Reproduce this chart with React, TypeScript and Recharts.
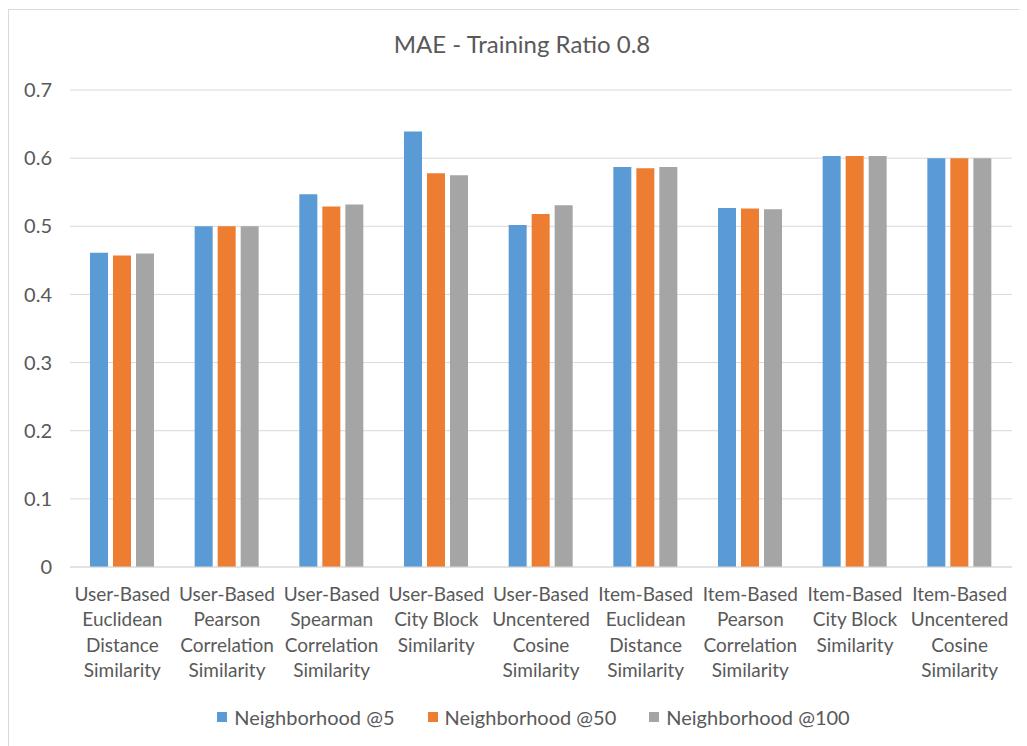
import { Bar, BarChart, CartesianGrid, Legend, XAxis, YAxis } from "recharts";

const categories = [
  "User-Based Euclidean Distance Similarity",
  "User-Based Pearson Correlation Similarity",
  "User-Based Spearman Correlation Similarity",
  "User-Based City Block Similarity",
  "User-Based Uncentered Cosine Similarity",
  "Item-Based Euclidean Distance Similarity",
  "Item-Based Pearson Correlation Similarity",
  "Item-Based City Block Similarity",
  "Item-Based Uncentered Cosine Similarity",
];

// how each category label wraps under the axis
const labelLines: Record<string, string[]> = {
  "User-Based Euclidean Distance Similarity": ["User-Based", "Euclidean", "Distance", "Similarity"],
  "User-Based Pearson Correlation Similarity": ["User-Based", "Pearson", "Correlation", "Similarity"],
  "User-Based Spearman Correlation Similarity": ["User-Based", "Spearman", "Correlation", "Similarity"],
  "User-Based City Block Similarity": ["User-Based", "City Block", "Similarity"],
  "User-Based Uncentered Cosine Similarity": ["User-Based", "Uncentered", "Cosine", "Similarity"],
  "Item-Based Euclidean Distance Similarity": ["Item-Based", "Euclidean", "Distance", "Similarity"],
  "Item-Based Pearson Correlation Similarity": ["Item-Based", "Pearson", "Correlation", "Similarity"],
  "Item-Based City Block Similarity": ["Item-Based", "City Block", "Similarity"],
  "Item-Based Uncentered Cosine Similarity": ["Item-Based", "Uncentered", "Cosine", "Similarity"],
};

const n5 = [0.461, 0.5, 0.547, 0.639, 0.502, 0.587, 0.527, 0.603, 0.6];
const n50 = [0.457, 0.5, 0.529, 0.578, 0.518, 0.585, 0.526, 0.603, 0.6];
const n100 = [0.46, 0.5, 0.532, 0.575, 0.531, 0.587, 0.525, 0.603, 0.6];

const yTicks = [0, 0.1, 0.2, 0.3, 0.4, 0.5, 0.6, 0.7];

const series = [
  { key: "n5", name: "Neighborhood @5", color: "#5B9BD5" },
  { key: "n50", name: "Neighborhood @50", color: "#ED7D31" },
  { key: "n100", name: "Neighborhood @100", color: "#A5A5A5" },
];

const FONT = "Lato, 'Open Sans', sans-serif";
const TEXT = "#595959";

const data = categories.map((c, i) => ({ cat: c, n5: n5[i], n50: n50[i], n100: n100[i] }));

function CategoryTick(props: any) {
  const { x, y, payload } = props;
  const lines = labelLines[payload.value] ?? [payload.value];
  return (
    <text x={x} y={y} textAnchor="middle" fill={TEXT} fontSize={19} fontFamily={FONT}>
      {lines.map((l, i) => (
        <tspan key={i} x={x} dy={i === 0 ? 26 : 25.3}>
          {l}
        </tspan>
      ))}
    </text>
  );
}

function LegendContent() {
  return (
    <div
      style={{
        display: "flex",
        justifyContent: "center",
        alignItems: "center",
        fontFamily: FONT,
        fontSize: 20,
        color: TEXT,
        paddingLeft: 55,
        paddingTop: 13,
      }}
    >
      {series.map((s, i) => (
        <div
          key={s.key}
          style={{ display: "flex", alignItems: "center", marginRight: i < series.length - 1 ? 33 : 0 }}
        >
          <span style={{ width: 10, height: 10, background: s.color, marginRight: 7, display: "inline-block" }} />
          <span>{s.name}</span>
        </div>
      ))}
    </div>
  );
}

export default function App() {
  return (
    <div
      style={{
        position: "relative",
        width: 1027,
        height: 746,
        marginLeft: -8,
        marginTop: -8,
        background: "#fff",
        overflow: "hidden",
      }}
    >
      <div
        style={{
          position: "absolute",
          left: 8,
          top: 9,
          right: -2,
          bottom: -2,
          borderLeft: "1px solid #d9d9d9",
          borderTop: "1px solid #d9d9d9",
        }}
      />
      <div
        style={{
          position: "absolute",
          top: 29,
          left: 0,
          width: 1044,
          textAlign: "center",
          fontFamily: FONT,
          fontSize: 24,
          color: TEXT,
        }}
      >
        MAE - Training Ratio 0.8
      </div>
      <div style={{ position: "absolute", left: 0, top: 0 }}>
        <BarChart
          width={1027}
          height={746}
          data={data}
          margin={{ top: 90, right: 15, bottom: 14, left: 0 }}
          barCategoryGap={20}
          barGap={5}
        >
          <CartesianGrid stroke="#d9d9d9" vertical={false} />
          <XAxis
            dataKey="cat"
            interval={0}
            height={125}
            tick={<CategoryTick />}
            tickLine={false}
            axisLine={{ stroke: "#d9d9d9" }}
          />
          <YAxis
            width={70}
            domain={[0, 0.7]}
            ticks={yTicks}
            tickFormatter={(v: number) => `${Math.round(v * 10) / 10}`}
            tick={{ fill: TEXT, fontSize: 20, fontFamily: FONT }}
            tickLine={false}
            axisLine={false}
            tickMargin={12}
          />
          <Legend verticalAlign="bottom" height={40} content={<LegendContent />} />
          {series.map((s) => (
            <Bar key={s.key} dataKey={s.key} name={s.name} fill={s.color} isAnimationActive={false} />
          ))}
        </BarChart>
      </div>
    </div>
  );
}
